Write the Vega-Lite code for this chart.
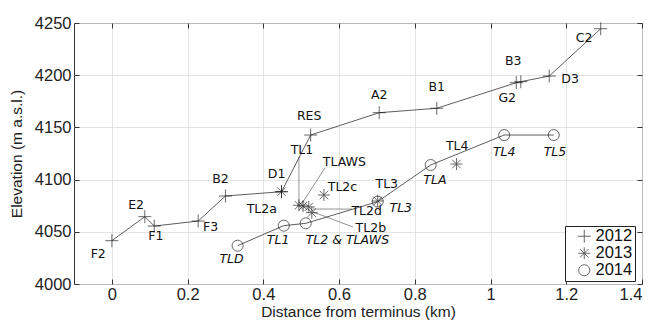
{
  "$schema": "https://vega.github.io/schema/vega-lite/v6.json",
  "width": 568,
  "height": 261,
  "autosize": {"type": "none"},
  "padding": {"left": 74, "top": 23, "right": 14, "bottom": 41},
  "background": "white",
  "config": {
    "view": {"stroke": "#333333", "strokeWidth": 1},
    "axis": {
      "labelFont": "Liberation Sans",
      "titleFont": "Liberation Sans",
      "labelColor": "#222222",
      "titleColor": "#222222",
      "labelFontSize": 16.5,
      "titleFontSize": 15.5,
      "titleFontWeight": "normal",
      "gridColor": "#dddddd",
      "gridWidth": 0.8,
      "domain": false,
      "tickColor": "#333333",
      "tickWidth": 1
    },
    "text": {"font": "DejaVu Sans"}
  },
  "resolve": {"axis": {"x": "independent", "y": "independent"}},
  "datasets": {
    "pts": [
      {"name": "F2", "year": 2012, "x": 0.0, "elev": 4041.5, "seq": 1},
      {"name": "E2", "year": 2012, "x": 0.087, "elev": 4064.5, "seq": 2},
      {"name": "F1", "year": 2012, "x": 0.112, "elev": 4055.5, "seq": 3},
      {"name": "F3", "year": 2012, "x": 0.228, "elev": 4060.3, "seq": 4},
      {"name": "B2", "year": 2012, "x": 0.300, "elev": 4084.3, "seq": 5},
      {"name": "D1", "year": 2012, "x": 0.448, "elev": 4088.4, "seq": 6},
      {"name": "RES", "year": 2012, "x": 0.525, "elev": 4142.7, "seq": 7},
      {"name": "A2", "year": 2012, "x": 0.706, "elev": 4164.1, "seq": 8},
      {"name": "B1", "year": 2012, "x": 0.858, "elev": 4168.3, "seq": 9},
      {"name": "G2", "year": 2012, "x": 1.068, "elev": 4192.8, "seq": 10},
      {"name": "B3", "year": 2012, "x": 1.080, "elev": 4193.8, "seq": 11},
      {"name": "D3", "year": 2012, "x": 1.155, "elev": 4199.2, "seq": 12},
      {"name": "C2", "year": 2012, "x": 1.291, "elev": 4244.5, "seq": 13},
      {"name": "D1", "year": 2013, "x": 0.448, "elev": 4088.4, "seq": 1},
      {"name": "TL2a", "year": 2013, "x": 0.494, "elev": 4075.4, "seq": 2},
      {"name": "TL1", "year": 2013, "x": 0.505, "elev": 4074.7, "seq": 3},
      {"name": "TL2d", "year": 2013, "x": 0.520, "elev": 4073.8, "seq": 4},
      {"name": "TL2b", "year": 2013, "x": 0.528, "elev": 4068.3, "seq": 5},
      {"name": "TL2c", "year": 2013, "x": 0.560, "elev": 4085.2, "seq": 6},
      {"name": "TL3", "year": 2013, "x": 0.702, "elev": 4079.5, "seq": 7},
      {"name": "TL4", "year": 2013, "x": 0.910, "elev": 4114.9, "seq": 8},
      {"name": "TLD", "year": 2014, "x": 0.332, "elev": 4036.7, "seq": 1},
      {"name": "TL1", "year": 2014, "x": 0.454, "elev": 4055.9, "seq": 2},
      {"name": "TL2 & TLAWS", "year": 2014, "x": 0.512, "elev": 4058.1, "seq": 3},
      {"name": "TL3", "year": 2014, "x": 0.702, "elev": 4078.9, "seq": 4},
      {"name": "TLA", "year": 2014, "x": 0.842, "elev": 4114.0, "seq": 5},
      {"name": "TL4", "year": 2014, "x": 1.036, "elev": 4142.7, "seq": 6},
      {"name": "TL5", "year": 2014, "x": 1.167, "elev": 4142.7, "seq": 7}
    ],
    "labels": [
      {"label": "F2", "year": 2012, "x": -0.036, "elev": 4028.4},
      {"label": "E2", "year": 2012, "x": 0.064, "elev": 4075.7},
      {"label": "F1", "year": 2012, "x": 0.116, "elev": 4046.3},
      {"label": "F3", "year": 2012, "x": 0.261, "elev": 4054.3},
      {"label": "B2", "year": 2012, "x": 0.287, "elev": 4100.6},
      {"label": "D1", "year": 2012, "x": 0.435, "elev": 4105.1},
      {"label": "RES", "year": 2012, "x": 0.521, "elev": 4161.2},
      {"label": "A2", "year": 2012, "x": 0.706, "elev": 4181.0},
      {"label": "B1", "year": 2012, "x": 0.858, "elev": 4189.0},
      {"label": "B3", "year": 2012, "x": 1.060, "elev": 4213.6},
      {"label": "G2", "year": 2012, "x": 1.044, "elev": 4177.9},
      {"label": "D3", "year": 2012, "x": 1.210, "elev": 4196.0},
      {"label": "C2", "year": 2012, "x": 1.247, "elev": 4235.3},
      {"label": "TL2a", "year": 2013, "x": 0.396, "elev": 4071.8},
      {"label": "TL1", "year": 2013, "x": 0.502, "elev": 4128.4},
      {"label": "TLAWS", "year": 2013, "x": 0.614, "elev": 4116.6},
      {"label": "TL2c", "year": 2013, "x": 0.609, "elev": 4093.2},
      {"label": "TL2d", "year": 2013, "x": 0.673, "elev": 4070.2},
      {"label": "TL2b", "year": 2013, "x": 0.684, "elev": 4053.9},
      {"label": "TL3", "year": 2013, "x": 0.726, "elev": 4095.5},
      {"label": "TL4", "year": 2013, "x": 0.912, "elev": 4132.5},
      {"label": "TLD", "year": 2014, "x": 0.316, "elev": 4023.7},
      {"label": "TL1", "year": 2014, "x": 0.439, "elev": 4042.1},
      {"label": "TL2 & TLAWS", "year": 2014, "x": 0.622, "elev": 4041.9},
      {"label": "TL3", "year": 2014, "x": 0.763, "elev": 4072.5},
      {"label": "TLA", "year": 2014, "x": 0.853, "elev": 4099.6},
      {"label": "TL4", "year": 2014, "x": 1.036, "elev": 4126.7},
      {"label": "TL5", "year": 2014, "x": 1.170, "elev": 4126.7}
    ],
    "leaders": [
      {"x": 0.494, "elev": 4121.6, "x2": 0.494, "elev2": 4075.4},
      {"x": 0.563, "elev": 4111.4, "x2": 0.501, "elev2": 4076.5},
      {"x": 0.531, "elev": 4071.8, "x2": 0.634, "elev2": 4071.8},
      {"x": 0.531, "elev": 4069.0, "x2": 0.637, "elev2": 4054.6}
    ]
  },
  "layer": [
    {
      "data": {"name": "leaders"},
      "mark": {"type": "rule", "stroke": "#666666", "strokeWidth": 0.7},
      "encoding": {
        "x": {"field": "x", "type": "quantitative",
          "scale": {"domain": [-0.1, 1.4], "nice": false, "zero": false},
          "axis": {"orient": "bottom", "values": [0, 0.2, 0.4, 0.6, 0.8, 1, 1.2, 1.4], "format": "~g", "title": "Distance from terminus (km)", "tickSize": -5, "labelPadding": 7, "titlePadding": 2, "grid": true}},
        "y": {"field": "elev", "type": "quantitative",
          "scale": {"domain": [4000, 4250], "nice": false, "zero": false},
          "axis": {"orient": "left", "values": [4000, 4050, 4100, 4150, 4200, 4250], "format": "d", "title": "Elevation (m a.s.l.)", "tickSize": -5, "labelPadding": 8, "titlePadding": 10, "grid": true}},
        "x2": {"field": "x2"},
        "y2": {"field": "elev2"}
      }
    },
    {
      "data": {"name": "pts"},
      "transform": [{"filter": "datum.year != 2013"}],
      "mark": {"type": "line", "stroke": "#333333", "strokeWidth": 0.8},
      "encoding": {
        "x": {"field": "x", "type": "quantitative",
          "axis": {"orient": "top", "values": [0, 0.2, 0.4, 0.6, 0.8, 1, 1.2, 1.4], "labels": false, "title": null, "tickSize": -5, "grid": false}},
        "y": {"field": "elev", "type": "quantitative",
          "axis": {"orient": "right", "values": [4000, 4050, 4100, 4150, 4200, 4250], "labels": false, "title": null, "tickSize": -5, "grid": false}},
        "detail": {"field": "year"},
        "order": {"field": "seq", "type": "quantitative"}
      }
    },
    {
      "data": {"name": "pts"},
      "mark": {"type": "point", "filled": false, "stroke": "#111111", "strokeWidth": 0.9, "size": 169},
      "encoding": {
        "x": {"field": "x", "type": "quantitative", "axis": null},
        "y": {"field": "elev", "type": "quantitative", "axis": null},
        "shape": {"field": "year", "type": "nominal",
          "scale": {"domain": [2012, 2013, 2014], "range": ["M-1,0L1,0M0,-1L0,1", "M-0.92,0L0.92,0M0,-0.92L0,0.92M-0.65,-0.65L0.65,0.65M-0.65,0.65L0.65,-0.65", "M0.85,0A0.85,0.85 0 1,1 -0.85,0A0.85,0.85 0 1,1 0.85,0Z"]},
          "legend": {"title": null, "orient": "none", "legendX": 491, "legendY": 203,
            "strokeColor": "#222222", "fillColor": "white", "padding": 2,
            "labelFont": "Liberation Sans", "labelFontSize": 16.5, "labelColor": "#111111",
            "symbolStrokeColor": "#111111", "symbolFillColor": "transparent", "symbolStrokeWidth": 0.9, "symbolSize": 169,
            "symbolOffset": 9, "labelOffset": 3, "rowPadding": -2}}
      }
    },
    {
      "data": {"name": "labels"},
      "transform": [{"filter": "datum.year != 2014"}],
      "mark": {"type": "text", "fontSize": 12.5, "color": "#111111", "align": "center", "baseline": "middle"},
      "encoding": {
        "x": {"field": "x", "type": "quantitative", "axis": null},
        "y": {"field": "elev", "type": "quantitative", "axis": null},
        "text": {"field": "label"}
      }
    },
    {
      "data": {"name": "labels"},
      "transform": [{"filter": "datum.year == 2014"}],
      "mark": {"type": "text", "fontSize": 12.5, "fontStyle": "italic", "color": "#111111", "align": "center", "baseline": "middle"},
      "encoding": {
        "x": {"field": "x", "type": "quantitative", "axis": null},
        "y": {"field": "elev", "type": "quantitative", "axis": null},
        "text": {"field": "label"}
      }
    }
  ]
}
